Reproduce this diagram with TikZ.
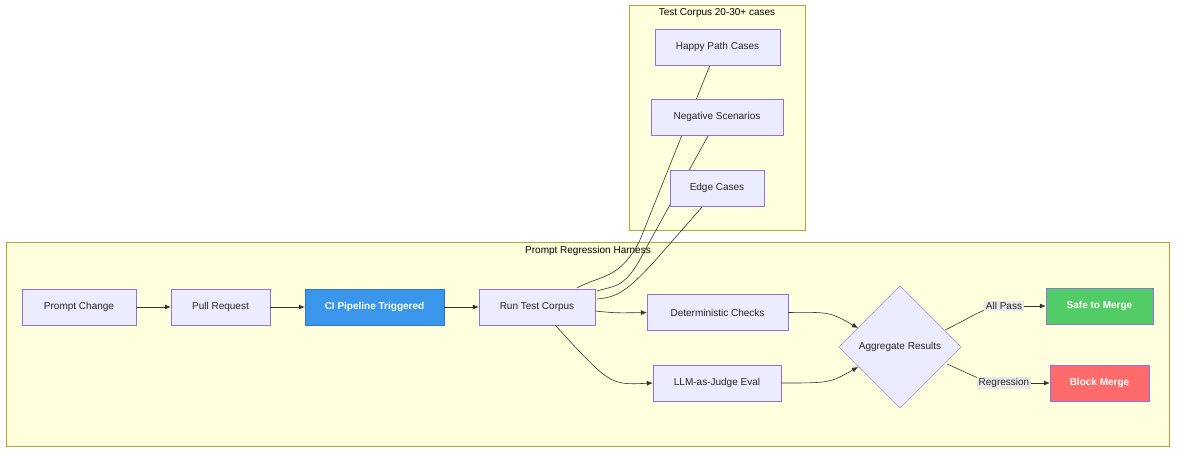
\documentclass[tikz,border=0pt]{standalone}
\usepackage{fontspec}
\setmainfont{Liberation Sans}
\usetikzlibrary{shapes.geometric,arrows.meta}
\definecolor{nodefill}{HTML}{ECECFF}
\definecolor{nodedraw}{HTML}{9370DB}
\definecolor{grpfill}{HTML}{FFFFDE}
\definecolor{grpdraw}{HTML}{AAAA33}
\definecolor{edgec}{HTML}{333333}
\definecolor{cifill}{HTML}{3A96EA}
\definecolor{okfill}{HTML}{52CC66}
\definecolor{badfill}{HTML}{FF6B6B}
\definecolor{lblbg}{HTML}{E8E8E8}
\begin{document}
\begin{tikzpicture}[x=1pt,y=-1pt,
  box/.style={draw=nodedraw,fill=nodefill,minimum height=36pt,inner sep=0pt,font=\fontsize{10}{12}\selectfont,text=black!85},
  grp/.style={draw=grpdraw,fill=grpfill},
  ed/.style={draw=edgec,line width=0.6pt},
  arr/.style={ed,-{Latex[length=6pt,width=5pt]}},
  lbl/.style={fill=lblbg,inner sep=1.5pt,font=\fontsize{10}{12}\selectfont,text=black!85}]
\useasboundingbox (0,0) rectangle (1184,456);
\fill[white] (0,0) rectangle (1184,456);
\draw[grp] (629,5) rectangle (805,230);
\node[font=\fontsize{10}{12}\selectfont] (tcl) at (717,13) {Test Corpus 20-30+ cases};
\draw[grp] (6,242) rectangle (1169,446);
\node[font=\fontsize{10}{12}\selectfont] (phl) at (588,251) {Prompt Regression Harness};
% nodes first (named), lines drawn on background layer via order
\coordinate (r1) at (577,288);
\coordinate (r2) at (597,291);
\coordinate (r3) at (597,299);
\draw[ed] (r1) .. controls (600,275) and (620,280) .. (640,240) -- (710,65);
\draw[ed] (r2) .. controls (615,285) and (625,290) .. (645,250) -- (708,136);
\draw[ed] (r3) .. controls (615,297) and (625,295) .. (660,255) -- (703,206);
\node[box,minimum width=132pt] (neg) at (717,117) {Negative Scenarios};
\node[box,minimum width=125pt] (hap) at (717.5,47) {Happy Path Cases};
\node[box,minimum width=94pt] (edge) at (717,188) {Edge Cases};
\node[box,minimum width=114pt] (pc) at (79,307) {Prompt Change};
\node[box,minimum width=99pt] (pr) at (220.5,307) {Pull Request};
\node[box,minimum width=139pt,fill=cifill,draw=cifill!80!black,text=white,font=\fontsize{10}{12}\selectfont\bfseries] (ci) at (374.5,307) {CI Pipeline Triggered};
\node[box,minimum width=116pt] (run) at (537,307) {Run Test Corpus};
\node[box,minimum width=141pt] (det) at (717.5,312.5) {Deterministic Checks};
\node[box,minimum width=128pt] (llm) at (717,383) {LLM-as-Judge Eval};
\node[diamond,draw=nodedraw,fill=nodefill,minimum width=122pt,minimum height=122pt,inner sep=0pt,font=\fontsize{10}{12}\selectfont,text=black!85] (agg) at (900,347) {Aggregate Results};
\node[box,minimum width=107pt,fill=okfill,draw=nodedraw,text=white,font=\fontsize{10}{12}\selectfont\bfseries] (safe) at (1099.5,306) {Safe to Merge};
\node[box,minimum width=99pt,fill=badfill,draw=nodedraw,text=white,font=\fontsize{10}{12}\selectfont\bfseries] (blk) at (1099.5,383) {Block Merge};
\draw[arr] (pc) -- (pr);
\draw[arr] (pr) -- (ci);
\draw[arr] (ci) -- (run);
\draw[arr] (595,311) .. controls (615,313) .. (det.west);
\draw[arr] (555,325) .. controls (610,385) .. (llm.west);
\draw[arr] (det.east) .. controls (830,312) .. (858,328);
\draw[arr] (llm.east) .. controls (830,383) .. (858,367);
\draw[ed] (945,330) .. controls (970,318) and (985,307) .. (1000,306);
\draw[arr] (1000,306) -- (safe.west);
\draw[ed] (947,364) .. controls (970,374) and (985,383) .. (1000,383);
\draw[arr] (1000,383) -- (blk.west);
\node[lbl] (lap) at (1004,306) {All Pass};
\node[lbl] (lrg) at (1004,383) {Regression};
\end{tikzpicture}
\end{document}
